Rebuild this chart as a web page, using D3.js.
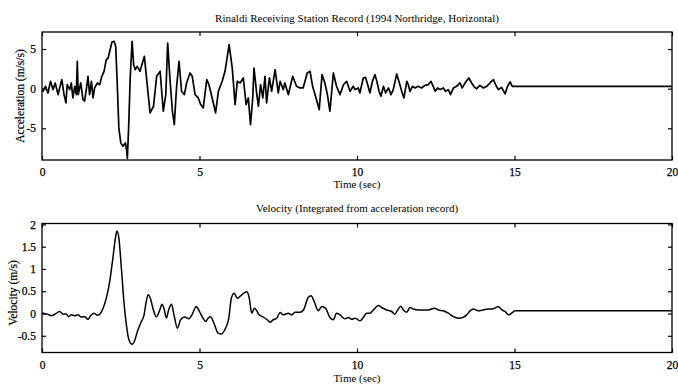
<!DOCTYPE html>
<html>
<head>
<meta charset="utf-8">
<script src="https://cdn.jsdelivr.net/npm/d3@7"></script>
<style>
body{margin:0;background:#fff;}
text{font-family:"Liberation Serif","DejaVu Serif",serif;fill:#000;}
</style>
</head>
<body>
<div id="chart"></div>
<script>
// acceleration record (sec, m/s/s)
var accTime=[0,0.03,0.11,0.19,0.27,0.35,0.42,0.51,0.56,0.63,0.7,0.76,0.8,0.88,0.93,0.98,1.04,1.09,1.12,1.15,1.23,1.3,1.35,1.42,1.46,1.51,1.57,1.62,1.67,1.76,1.83,1.9,1.97,2.04,2.1,2.15,2.22,2.29,2.34,2.39,2.44,2.5,2.57,2.65,2.69,2.71,2.75,2.8,2.86,2.91,2.96,3.02,
3.11,3.25,3.43,3.54,3.64,3.75,3.85,3.93,3.99,4.06,4.14,4.2,4.27,4.35,4.43,4.52,4.59,4.7,4.77,4.86,4.96,5.04,5.12,5.23,5.3,5.44,5.51,5.6,5.72,5.81,5.94,6.04,
6.13,6.2,6.29,6.39,6.48,6.55,6.62,6.69,6.73,6.82,6.87,6.94,7.01,7.08,7.13,7.22,7.29,7.4,7.5,7.56,7.66,7.71,7.82,7.96,8.08,8.19,8.29,8.42,8.51,8.59,8.7,8.8,8.89,8.98,9.06,9.14,9.25,9.35,9.46,9.57,9.67,9.78,9.88,
9.94,10.04,10.09,10.2,10.27,10.34,10.41,10.49,10.57,10.63,10.7,10.76,10.84,10.91,11.0,11.08,11.15,11.26,11.33,11.42,11.49,11.58,11.63,11.68,11.76,11.84,11.94,12.05,12.16,12.26,12.35,12.42,12.48,12.56,12.64,12.74,12.81,12.9,12.97,13.06,13.16,13.27,13.34,13.43,13.55,13.64,13.73,13.8,13.9,14.01,14.12,14.22,14.33,14.4,14.49,14.59,14.7,14.78,14.86,14.93,15.02,20];
var accVal=[-0.3,-0.33,0.3,-0.54,0.93,-0.12,0.72,-0.75,0.09,1.14,-0.75,-1.8,0.5,-0.12,0.72,-1.17,0.3,-0.75,3.45,-0.75,0.72,-1.38,-1.59,0.3,1.56,-0.75,0.93,-1.17,0.09,0.72,0.5,1.56,2.19,3.66,3.87,4.7,5.88,5.97,5.34,0.5,-4.95,-6.84,-7.26,-6.84,-7.89,-8.81,-4.95,1.35,5.97,3.03,2.4,2.82,
2.19,4.08,-3.06,-2.22,1.56,2.19,-2.85,-0.75,5.76,1.35,-2.85,-4.54,0.09,3.45,-0.33,-0.75,0.72,1.98,1.56,-0.75,-1.17,-2.01,-2.43,1.14,0.5,-1.8,-3.06,-0.33,0.93,2.19,5.55,2.6,
-2.01,0.93,0.72,1.35,-2.01,-1.17,-4.54,-1.17,2.6,-0.75,-2.22,0.5,-1.17,1.56,-1.8,1.35,-0.33,2.4,-0.54,0.93,-0.12,0.72,-0.75,1.56,0.3,0.09,0.09,1.98,2.19,0.3,-1.17,-2.64,1.77,0.72,-0.75,-2.85,1.98,0.3,-0.75,0.5,0.93,-0.33,0.3,
-0.12,0.09,-0.54,1.35,1.43,0.5,-0.54,0.93,1.77,0.93,-0.33,-0.96,0.3,-0.54,0.09,-0.75,-0.12,1.85,0.93,-0.33,-1.17,0.93,0.5,-0.33,0.3,0.09,0.3,0.09,0.42,0.5,0.93,0.3,-0.33,0.09,-0.12,0.09,-0.33,-0.12,-0.75,0.09,0.3,0.72,0.09,0.72,1.35,0.72,0.17,0,0.42,0.09,0.3,0.72,1.14,0.5,-0.12,0.17,-0.67,0.3,0.84,0.3,0.3,0.3];

// velocity integrated from it (sec, m/s)
var velTime=[0,0.03,0.19,0.3,0.46,0.56,0.67,0.77,0.85,0.93,1.04,1.14,1.25,1.35,1.46,1.54,1.65,1.76,1.86,1.94,2.04,2.15,2.25,2.33,2.38,2.44,2.52,2.6,2.68,2.76,2.86,2.94,3.03,3.13,3.24,3.31,3.37,3.44,3.52,3.63,3.74,3.81,3.87,3.95,4.02,4.11,4.19,4.3,4.4,4.53,4.66,4.76,4.9,5.0,5.11,5.2,5.27,5.35,5.46,5.59,5.69,5.8,5.93,6.01,6.1,6.2,
6.34,6.5,6.57,6.66,6.74,6.82,6.89,7.0,7.15,7.24,7.34,7.45,7.56,7.66,7.82,7.93,8.03,8.19,8.3,8.45,8.54,8.64,8.77,8.88,9.0,9.14,9.25,9.35,9.46,9.62,9.73,9.83,9.94,10.1,10.2,10.31,10.41,10.52,10.68,10.78,10.94,11.1,11.2,11.29,11.39,11.47,11.58,11.68,11.79,11.95,12.1,12.27,12.46,12.58,12.74,12.9,13.06,13.22,13.38,13.48,13.59,13.69,13.85,14.01,14.17,14.28,14.49,14.6,14.7,14.81,14.91,15.02,20];
var velVal=[0.01,0.007,-0.02,-0.05,0.007,0.045,-0.015,-0.01,-0.07,-0.03,-0.05,-0.03,-0.08,-0.07,-0.13,-0.05,0.007,-0.04,0.007,0.12,0.34,0.72,1.24,1.69,1.85,1.69,1.02,0.27,-0.26,-0.59,-0.69,-0.61,-0.4,-0.22,-0.03,0.27,0.42,0.34,0.12,-0.075,0.08,0.21,0.12,-0.1,0.08,0.21,-0.03,-0.33,-0.14,-0.08,-0.12,-0.03,0.16,0.045,-0.105,-0.18,-0.105,-0.075,-0.22,-0.44,-0.46,-0.37,-0.105,0.34,0.455,0.34,
0.42,0.49,0.38,0.007,0.12,0.06,-0.03,-0.07,-0.14,-0.195,-0.14,-0.105,0.02,-0.03,0.007,-0.03,0.03,0.03,0.08,0.36,0.4,0.27,0.06,0.16,0.12,-0.09,-0.14,0.007,-0.03,-0.12,-0.09,-0.13,-0.105,-0.165,-0.09,0.007,0.007,0.08,0.18,0.135,0.08,0.045,-0.015,0.08,0.165,0.08,0.03,0.135,0.1,0.08,0.08,0.08,0.12,0.08,0.06,0.007,-0.07,-0.105,-0.08,-0.03,0.06,0.1,0.06,0.08,0.1,0.1,0.15,0.08,0.045,-0.03,0.007,0.06,0.06];

var timeTicks=[0,5,10,15,20];
var accTicks=[-5,0,5];
var velTicks=[-0.5,0,0.5,1,1.5,2];

var width=678,height=384;
var left=42,right=672;

var svg=d3.select("#chart").append("svg").attr("width",width).attr("height",height);

var x=d3.scaleLinear().domain([0,20]).range([left,right]);

function panel(top,bottom,yDomain,yTicks,times,vals,title,ylabel,o){
  var y=d3.scaleLinear().domain(yDomain).range([bottom,top]);
  var g=svg.append("g");

  g.append("rect").attr("x",left).attr("y",top).attr("width",right-left).attr("height",bottom-top)
   .attr("fill","none").attr("stroke","#000").attr("stroke-width",1.3);

  var fmt=function(d){return String(d);};
  g.append("g").attr("transform","translate(0,"+bottom+")")
    .call(d3.axisBottom(x).tickValues(timeTicks).tickSize(-4).tickPadding(8).tickFormat(fmt));
  g.append("g").attr("transform","translate(0,"+top+")")
    .call(d3.axisTop(x).tickValues(timeTicks).tickSize(-4).tickFormat(""));
  g.append("g").attr("transform","translate("+left+",0)")
    .call(d3.axisLeft(y).tickValues(yTicks).tickSize(-4).tickPadding(6).tickFormat(fmt));
  g.append("g").attr("transform","translate("+right+",0)")
    .call(d3.axisRight(y).tickValues(yTicks).tickSize(-4).tickFormat(""));
  g.selectAll(".domain").remove();
  g.selectAll(".tick line").attr("stroke","#000").attr("stroke-width",1.2);
  g.selectAll(".tick text").style("font-size","11.5px").style("font-family","Liberation Serif")
   .attr("fill","#000").attr("stroke","#000").attr("stroke-width",0.25);

  g.append("path")
   .datum(vals)
   .attr("fill","none")
   .attr("stroke","#000")
   .attr("stroke-width",o.lw)
   .attr("stroke-linejoin","round")
   .attr("d",d3.line().curve(o.curve).x(function(d,i){return x(times[i]);}).y(function(d){return y(d);}));

  g.append("text").attr("x",(left+right)/2).attr("y",o.titleY).attr("text-anchor","middle")
   .style("font-size","11px").text(title);
  g.append("text").attr("x",(left+right)/2).attr("y",o.xlabY).attr("text-anchor","middle")
   .style("font-size","11px").text("Time (sec)");
  g.append("text").attr("transform","translate("+o.ylabX+","+o.ylabMid+") rotate(-90)")
   .attr("text-anchor","middle").style("font-size","11.5px").attr("stroke","#000").attr("stroke-width",0.2)
   .text(ylabel);
}

panel(32,160,[-9,7.15],accTicks,accTime,accVal,
  "Rinaldi Receiving Station Record (1994 Northridge, Horizontal)","Acceleration (m/s/s)",
  {lw:1.7,curve:d3.curveLinear,titleY:22,xlabY:188,ylabX:24,ylabMid:96});

panel(223.5,352.5,[-0.875,2.02],velTicks,velTime,velVal,
  "Velocity (Integrated from acceleration record)","Velocity (m/s)",
  {lw:1.5,curve:d3.curveMonotoneX,titleY:212,xlabY:382,ylabX:17,ylabMid:293});
</script>
</body>
</html>
